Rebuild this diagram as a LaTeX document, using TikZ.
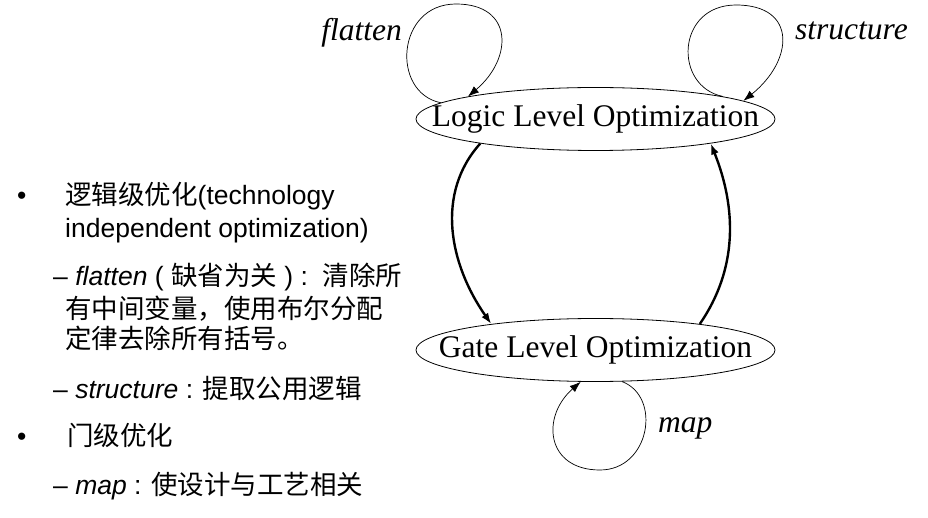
\documentclass[tikz,border=0pt]{standalone}
\usepackage{fontspec}
\setmainfont{Liberation Serif}
\newfontfamily\arialfont{Liberation Sans}
\newfontfamily\cjk{Noto Sans CJK SC}
\usetikzlibrary{shapes.geometric,arrows.meta}

\newcommand{\bigtxt}{\fontsize{31.5}{37}\selectfont}
\newcommand{\listtxt}{\arialfont\fontsize{26.5}{32}\selectfont}

\begin{document}
\begin{tikzpicture}[x = 1pt, y = 1pt, >={Latex[length=11pt,width=8pt]},
	level/.style = {ellipse, draw, line width=.8pt, minimum width=359pt, minimum height=63pt, inner xsep=-40pt, inner ysep=0pt, font=\bigtxt},
	lbl/.style = {font=\bigtxt\itshape, inner sep=0pt},
	item/.style = {anchor=base west, inner sep=0pt, font=\listtxt},
	self/.style = {->, line width=.7pt},
	trans/.style = {->, line width=2.4pt}]
	\useasboundingbox (0,0) rectangle (928,517);

	% left column
	\node[item] (b1) at (17,312) {•};
	\node[item] (t1) at (65,312) {{\cjk 逻辑级优化}(technology};
	\node[item] (t2) at (65,279) {independent optimization)};
	\node[item] (t3) at (53,231) {– \textit{flatten} ( {\cjk 缺省为关} ) :~~{\cjk 清除所}};
	\node[item] (t4) at (65,198) {\cjk 有中间变量，使用布尔分配};
	\node[item] (t5) at (65,168) {\cjk 定律去除所有括号。};
	\node[item] (t6) at (53,119) {– \textit{structure} : {\cjk 提取公用逻辑}};
	\node[item] (b2) at (17,72) {•};
	\node[item] (t7) at (67,72) {\cjk 门级优化};
	\node[item] (t8) at (53,23) {– \textit{map} : {\cjk 使设计与工艺相关}};

	% the two levels
	\node[level] (logic) at (595.5,398) {Logic Level Optimization};
	\node[level] (gate) at (595.5,167) {Gate Level Optimization};

	\draw[trans] (logic.192) .. controls +(-45,-50) and +(-42,60) .. (gate.166);
	\draw[trans] (gate.14) .. controls +(38,55) and +(26,-65) .. (logic.-12);

	% self loops
	\coordinate (ftop) at (456,513);
	\coordinate (stop) at (736,512);
	\coordinate (mbot) at (600,47);
	\draw[self] (logic.174) .. controls +(-50,10) and +(-60,0) .. (ftop) .. controls +(58,0) and +(45,38) .. (logic.170);
	\draw[self] (logic.10) .. controls +(-50,10) and +(-60,0) .. (stop) .. controls +(62,0) and +(50,40) .. (logic.7);
	\draw[self] (gate.-50) .. controls +(40,-15) and +(50,0) .. (mbot) .. controls +(-54,0) and +(-40,-35) .. (gate.-115);

	\node[lbl, anchor=base east] (flat) at (402,476) {flatten};
	\node[lbl, anchor=base west] (struct) at (795,477) {structure};
	\node[lbl, anchor=base west] (maplbl) at (658,85) {map};
\end{tikzpicture}
\end{document}
